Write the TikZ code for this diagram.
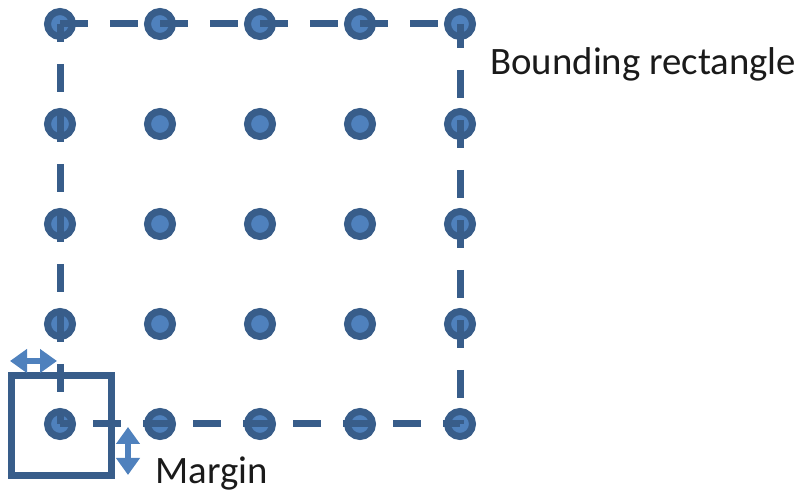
\documentclass[tikz,border=0pt]{standalone}
\usepackage{fontspec}
\setmainfont{Carlito}
\usetikzlibrary{arrows.meta}
\definecolor{gridedge}{HTML}{385D8A}
\definecolor{gridfill}{HTML}{4F81BD}
\definecolor{textcol}{HTML}{1A1A1A}
\tikzset{
  gpoint/.style={circle, draw=gridedge, fill=gridfill, line width=3.5pt,
    minimum size=12.5pt, inner sep=0pt},
  boundedge/.style={draw=gridedge, line width=3.5pt, dash pattern=on 14pt off 11pt},
  marginbox/.style={draw=gridedge, line width=3.5pt, minimum size=50pt,
    inner sep=0pt, miter limit=10},
  gap/.style={draw=gridfill, line width=3pt,
    {Triangle[length=8.5pt,width=11.5pt]}-{Triangle[length=8.5pt,width=11.5pt]}},
  caption/.style={anchor=base west, inner sep=0pt, text=textcol,
    font=\fontsize{19.4pt}{22pt}\selectfont}
}
\begin{document}
\begin{tikzpicture}[x=0.5pt, y=-0.5pt]
  \useasboundingbox (0,0) rectangle (800,491);

  % 5 x 5 grid of points
  \foreach \r in {1,...,5} {
    \foreach \c in {1,...,5} {
      \node[gpoint] (p\r\c) at ({60+100*(\c-1)}, {24+100*(\r-1)}) {};
    }
  }

  % dashed bounding rectangle through the outer points
  \draw[boundedge, dash phase=0pt]   (p11.center) -- (p15.center);
  \draw[boundedge, dash phase=5pt]   (p11.center) -- (p51.center);
  \draw[boundedge, dash phase=8.5pt] (p51.center) -- (p55.center);
  \draw[boundedge, dash phase=2pt]   (p15.center) -- (p55.center);

  % margin square around the corner point
  \node[marginbox] (mbox) at (61,426) {};

  % margin arrows
  \coordinate (hl) at (10,361);
  \coordinate (hr) at (57,361);
  \coordinate (vt) at (128,427);
  \coordinate (vb) at (128,475);
  \draw[gap] (hl) -- (hr);
  \draw[gap] (vt) -- (vb);

  % labels
  \node[caption] (lbound) at (490,75) {Bounding rectangle};
  \node[caption] (lmargin) at (155,484) {Margin};
\end{tikzpicture}
\end{document}
